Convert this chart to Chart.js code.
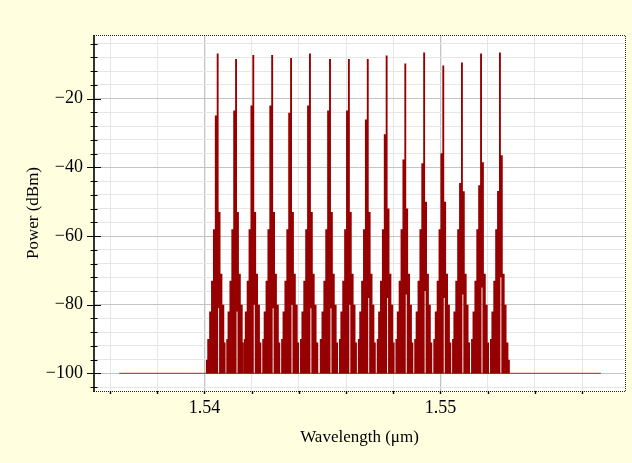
<!DOCTYPE html>
<html>
<head>
<meta charset="utf-8">
<title>Power spectrum</title>
<script src="https://cdn.jsdelivr.net/npm/chart.js@4.4.1/dist/chart.umd.min.js"></script>
<style>
  html, body { margin: 0; padding: 0; background: #ffffe0; }
  #wrap { width: 632px; height: 463px; }
</style>
</head>
<body>
<div id="wrap"><canvas id="spectrum"></canvas></div>
<script>
// comb teeth, wavelength in um, power in dBm
const toothCenter = [1.54056, 1.54134, 1.54207, 1.54287, 1.54367, 1.54447, 1.54532, 1.54612,
                     1.54692, 1.54772, 1.54851, 1.54931, 1.55012, 1.55091, 1.55172, 1.55252];
const toothPeak = [-6.9, -8.5, -7.3, -7.3, -8.2, -6.9, -8.5, -8.5,
                   -8.5, -7.5, -9.8, -6.6, -10.4, -9.5, -6.9, -6.6];
// first sub-line left / right of each tooth
const innerLeft = [-24.9, -23.5, -22.0, -22.0, -24.1, -22.0, -23.5, -23.5,
                   -26.1, -30.4, -37.7, -38.8, -35.9, -44.6, -45.2, -46.9];
const innerRight = [-53, -53, -53, -53, -53, -53, -53, -53,
                    -53, -52, -52, -50, -50, -47, -38.5, -36.5];
// top of the thin white notch just right of each spike
const notchTop = [-81, -82, -80, -81, -80, -81, -81, -80,
                  -78, -78, -77, -76, -78, -77, -75, -72];
// outer sub-lines, same shape on every tooth
const outerLeft = [-90, -82, -73, -58];   // k = -5 .. -2
const outerRight = [-71, -80, -91];       // k = +2 .. +4
const edgeLevel = -96;                    // outermost line at both ends
const lineStep = 0.00008;                 // sub-line spacing (um)

// flat noise floor
const floorWl = [1.53639, 1.5568];
const floorDbm = -100;

// axes
const xMin = 1.53532, xMax = 1.55782;
const yMin = -105.1, yMax = -1.5;
const xTicks = [1.536, 1.538, 1.54, 1.542, 1.544, 1.546, 1.548, 1.55, 1.552, 1.554, 1.556];
const xLabels = [1.54, 1.55];
const yTicks = [-104, -100, -96, -92, -88, -84, -80, -76, -72, -68, -64, -60, -56,
                -52, -48, -44, -40, -36, -32, -28, -24, -20, -16, -12, -8, -4];

const specColor = '#960000';
const floorColor = '#c04848';

// upper envelope: one step per sub-line, a dip to the floor between teeth
const spectrum = [];
// lower edge of the filled area: the floor, with a notch next to each spike
const lowerEdge = [];
let prevEdge = null;
toothCenter.forEach((c, i) => {
    const pts = [];
    if (i === 0) pts.push({ x: c - 6 * lineStep, y: edgeLevel });
    outerLeft.forEach((v, j) => pts.push({ x: c + (j - 5) * lineStep, y: v }));
    pts.push({ x: c - lineStep, y: innerLeft[i] });
    pts.push({ x: c, y: toothPeak[i] });
    pts.push({ x: c + lineStep, y: innerRight[i] });
    outerRight.forEach((v, j) => pts.push({ x: c + (j + 2) * lineStep, y: v }));
    if (i === toothCenter.length - 1) pts.push({ x: c + 5 * lineStep, y: edgeLevel });

    const gapX = prevEdge === null ? pts[0].x - lineStep / 2 : (prevEdge + pts[0].x) / 2;
    spectrum.push({ x: gapX, y: floorDbm });
    spectrum.push(...pts);
    prevEdge = pts[pts.length - 1].x;

    lowerEdge.push({ x: gapX, y: floorDbm });
    lowerEdge.push({ x: c, y: floorDbm });
    lowerEdge.push({ x: c + lineStep / 2, y: notchTop[i] });
    lowerEdge.push({ x: c + lineStep, y: floorDbm });
});
spectrum.push({ x: prevEdge + lineStep / 2, y: floorDbm });
lowerEdge.push({ x: prevEdge + lineStep / 2, y: floorDbm });

const isLabelX = v => xLabels.some(l => Math.abs(l - v) < 1e-9);

// white plot area, dotted frame, cross ticks on the left axis
const framePlugin = {
    id: 'frame',
    beforeDraw(chart) {
        const { ctx, chartArea: a } = chart;
        ctx.save();
        ctx.fillStyle = '#ffffff';
        ctx.fillRect(a.left, a.top, a.right - a.left, a.bottom - a.top);
        ctx.restore();
    },
    afterDraw(chart) {
        const { ctx, chartArea: a, scales } = chart;
        ctx.save();
        ctx.strokeStyle = '#222';
        ctx.lineWidth = 1;
        ctx.setLineDash([1, 1]);
        ctx.beginPath();
        ctx.moveTo(a.left, a.top + 0.5); ctx.lineTo(a.right + 0.5, a.top + 0.5);
        ctx.lineTo(a.right + 0.5, a.bottom + 0.5); ctx.lineTo(a.left, a.bottom + 0.5);
        ctx.stroke();
        ctx.setLineDash([]);

        // left axis
        ctx.strokeStyle = '#000';
        ctx.lineWidth = 1.6;
        ctx.beginPath();
        ctx.moveTo(a.left, a.top); ctx.lineTo(a.left, a.bottom + 1);
        ctx.stroke();
        ctx.lineWidth = 1;
        yTicks.forEach(v => {
            const y = Math.round(scales.y.getPixelForValue(v)) + 0.5;
            const half = v % 20 === 0 ? 7 : 3.5;
            ctx.beginPath();
            ctx.moveTo(a.left - half, y); ctx.lineTo(a.left + half, y);
            ctx.stroke();
        });

        // small marks under the bottom edge
        ctx.lineWidth = 1.4;
        xTicks.forEach(v => {
            const x = Math.round(scales.x.getPixelForValue(v)) + 0.5;
            ctx.beginPath();
            ctx.moveTo(x, a.bottom); ctx.lineTo(x, a.bottom + 3);
            ctx.stroke();
        });
        ctx.restore();
    }
};

const tickFont = { family: '"Liberation Serif", "Times New Roman", serif', size: 18 };
const titleFont = { family: '"Liberation Serif", "Times New Roman", serif', size: 17 };

new Chart(document.getElementById('spectrum'), {
    type: 'line',
    data: {
        datasets: [{
            data: spectrum,
            stepped: 'middle',
            fill: 1,
            backgroundColor: specColor,
            borderColor: 'rgba(0,0,0,0)',
            borderWidth: 0,
            pointRadius: 0
        }, {
            data: lowerEdge,
            stepped: 'middle',
            fill: false,
            borderColor: 'rgba(0,0,0,0)',
            borderWidth: 0,
            pointRadius: 0
        }, {
            data: floorWl.map(w => ({ x: w, y: floorDbm })),
            borderColor: floorColor,
            borderWidth: 1.2,
            pointRadius: 0,
            fill: false
        }]
    },
    options: {
        responsive: true,
        maintainAspectRatio: false,
        animation: false,
        events: [],
        layout: { padding: { left: 0, top: 35, right: 7, bottom: 0 } },
        plugins: { legend: { display: false }, tooltip: { enabled: false } },
        scales: {
            x: {
                type: 'linear',
                min: xMin,
                max: xMax,
                afterBuildTicks: s => { s.ticks = xTicks.map(v => ({ value: v })); },
                afterFit: s => { s.height = 72; },
                border: { display: false },
                grid: {
                    drawTicks: false,
                    color: c => isLabelX(c.tick.value) ? '#c4c4c4' : '#e6e6e6',
                    lineWidth: c => isLabelX(c.tick.value) ? 1.3 : 1
                },
                ticks: {
                    autoSkip: false,
                    maxRotation: 0,
                    padding: 6,
                    color: '#000',
                    font: tickFont,
                    callback: v => isLabelX(v) ? v.toFixed(2) : ''
                },
                title: {
                    display: true,
                    text: 'Wavelength (\u03bcm)',
                    color: '#000',
                    font: titleFont,
                    padding: { top: 0, bottom: 15 }
                }
            },
            y: {
                min: yMin,
                max: yMax,
                afterBuildTicks: s => { s.ticks = yTicks.map(v => ({ value: v })); },
                afterFit: s => { s.width = 94; },
                border: { display: false },
                grid: {
                    drawTicks: false,
                    color: c => c.tick.value % 20 === 0 ? '#c4c4c4' : '#e6e6e6'
                },
                ticks: {
                    autoSkip: false,
                    padding: 11,
                    color: '#000',
                    font: tickFont,
                    callback: v => v % 20 === 0 ? '\u2212' + Math.abs(v) : ''
                },
                title: {
                    display: true,
                    text: 'Power (dBm)',
                    color: '#000',
                    font: titleFont,
                    padding: { top: 23, bottom: 0 }
                }
            }
        }
    },
    plugins: [framePlugin]
});
</script>
</body>
</html>
